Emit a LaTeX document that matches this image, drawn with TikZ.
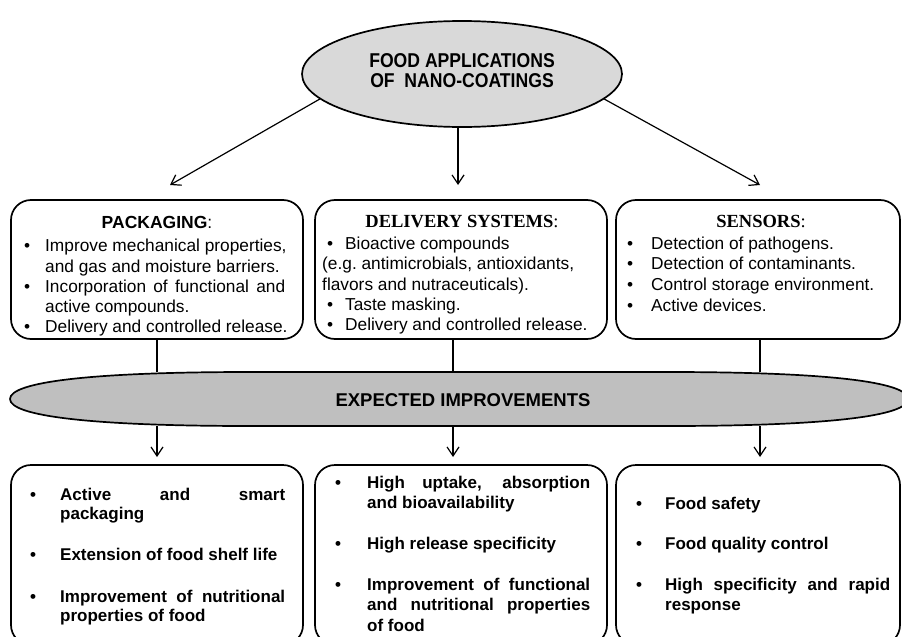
\documentclass[tikz,border=0pt]{standalone}
\usepackage{fontspec}
\setmainfont{Liberation Sans}
\newfontfamily\tnr{Liberation Serif}
\newfontfamily\narrowsans[FakeStretch=0.88]{Liberation Sans}
\usetikzlibrary{shapes.geometric,arrows.meta}
\definecolor{ellgray}{HTML}{D9D9D9}
\definecolor{bandgray}{HTML}{BFBFBF}
\tikzset{
  box/.style={draw, line width=1.7pt, rounded corners=20pt, inner sep=0pt},
  con/.style={line width=1.2pt},
  arr/.style={con, -{Straight Barb[length=9pt,width=12pt,line width=1.2pt]}},
  body/.style={anchor=base west, inner sep=0pt, font=\fontsize{17.3}{20}\selectfont},
  bodyb/.style={anchor=base west, inner sep=0pt, font=\fontsize{17}{20}\selectfont\bfseries},
  ttl/.style={anchor=base, inner sep=0pt},
}
\newcommand\bul[1]{\makebox[#1][l]{\textbullet}}
\begin{document}
\begin{tikzpicture}[x=1pt,y=-1pt]
\useasboundingbox (0,0) rectangle (902,637);
\clip (0,0) rectangle (902,637);
\fill[white] (0,0) rectangle (902,637);

% ---- top ellipse
\node[ellipse, draw, line width=1.7pt, fill=ellgray, minimum width=320pt, minimum height=106pt, inner sep=0pt] (top) at (462,74) {};
\node[ttl, font=\narrowsans\bfseries\fontsize{20}{20}\selectfont] (topa) at (462,67) {FOOD APPLICATIONS};
\node[ttl, font=\narrowsans\bfseries\fontsize{20}{20}\selectfont] (topb) at (462,87) {OF\ \ NANO-COATINGS};

% ---- arrow end points
\coordinate (a1) at (170,185);
\coordinate (a2) at (458,185);
\coordinate (a3) at (760,185);
\draw[arr] (top.190) -- (a1);
\draw[arr] (top.south -| a2) -- (a2);
\draw[arr] (top.350) -- (a3);

% ---- top boxes
\node[box, minimum width=292pt, minimum height=139pt] (b1) at (157,269.5) {};
\node[box, minimum width=292pt, minimum height=139pt] (b2) at (461,269.5) {};
\node[box, minimum width=284pt, minimum height=139pt] (b3) at (758,269.5) {};

% box 1 text
\node[ttl, font=\bfseries\fontsize{17.5}{20}\selectfont] (t1) at (157,228) {PACKAGING{\mdseries :}};
\node[body] (t1a) at (24,251) {\bul{21pt}Improve mechanical properties,};
\node[body] (t1b) at (45,272) {and gas and moisture barriers.};
\node[body] (t1c) at (24,292) {\bul{21pt}\makebox[240pt][s]{Incorporation of functional and}};
\node[body] (t1d) at (45,312) {active compounds.};
\node[body] (t1e) at (24,332) {\bul{21pt}Delivery and controlled release.};

% box 2 text
\node[ttl, font=\tnr\bfseries\fontsize{18.5}{20}\selectfont] (t2) at (462,227) {DELIVERY SYSTEMS{\mdseries :}};
\node[body] (t2a) at (327,249) {\bul{18pt}Bioactive compounds};
\node[body] (t2b) at (322,269) {(e.g.\ antimicrobials,\ antioxidants,};
\node[body] (t2c) at (322,290) {flavors and nutraceuticals).};
\node[body] (t2d) at (327,310) {\bul{18pt}Taste masking.};
\node[body] (t2e) at (327,330) {\bul{18pt}Delivery and controlled release.};

% box 3 text
\node[ttl, font=\tnr\bfseries\fontsize{18.5}{20}\selectfont] (t3) at (761,227) {SENSORS{\mdseries :}};
\node[body] (t3a) at (627,249) {\bul{24pt}Detection of pathogens.};
\node[body] (t3b) at (627,269) {\bul{24pt}Detection of contaminants.};
\node[body] (t3c) at (627,290) {\bul{24pt}Control storage environment.};
\node[body] (t3d) at (627,311) {\bul{24pt}Active devices.};

% ---- connectors to band
\coordinate (u1) at (157,372);
\coordinate (u2) at (453,372);
\coordinate (u3) at (760,372);
\draw[con] (b1.south -| u1) -- (u1);
\draw[con] (b2.south -| u2) -- (u2);
\draw[con] (b3.south -| u3) -- (u3);

% ---- band
\draw[line width=1.7pt, fill=bandgray]
  (10,399) .. controls (10,382) and (90,372) .. (250,372)
  -- (668,372) .. controls (828,372) and (908,382) .. (908,399)
  .. controls (908,416) and (828,426) .. (668,426)
  -- (250,426) .. controls (90,426) and (10,416) .. (10,399) -- cycle;
\node[ttl, font=\bfseries\fontsize{18.5}{20}\selectfont] (band) at (463,406) {EXPECTED IMPROVEMENTS};

% ---- arrows down
\coordinate (d1) at (157,426);
\coordinate (d2) at (453,426);
\coordinate (d3) at (760,426);
\coordinate (e1) at (157,457);
\coordinate (e2) at (453,457);
\coordinate (e3) at (760,457);
\draw[arr] (d1) -- (e1);
\draw[arr] (d2) -- (e2);
\draw[arr] (d3) -- (e3);

% ---- bottom boxes
\node[box, minimum width=292pt, minimum height=180pt] (c1) at (157,555) {};
\node[box, minimum width=292pt, minimum height=180pt] (c2) at (461,555) {};
\node[box, minimum width=284pt, minimum height=180pt] (c3) at (758,555) {};

\node[bodyb] (s1a) at (30,500) {\bul{30pt}\makebox[225pt][s]{Active and smart}};
\node[bodyb] (s1b) at (60,519) {packaging};
\node[bodyb] (s1c) at (30,560) {\bul{30pt}Extension of food shelf life};
\node[bodyb] (s1d) at (30,602) {\bul{30pt}\makebox[225pt][s]{Improvement of nutritional}};
\node[bodyb] (s1e) at (60,621) {properties of food};

\node[bodyb] (s2a) at (335,488) {\bul{32pt}\makebox[223pt][s]{High uptake, absorption}};
\node[bodyb] (s2b) at (367,508) {and bioavailability};
\node[bodyb] (s2c) at (335,549) {\bul{32pt}High release specificity};
\node[bodyb] (s2d) at (335,590) {\bul{32pt}\makebox[223pt][s]{Improvement of functional}};
\node[bodyb] (s2e) at (367,610) {\makebox[223pt][s]{and nutritional properties}};
\node[bodyb] (s2f) at (367,631) {of food};

\node[bodyb] (s3a) at (636,509) {\bul{29pt}Food safety};
\node[bodyb] (s3b) at (636,549) {\bul{29pt}Food quality control};
\node[bodyb] (s3c) at (636,590) {\bul{29pt}\makebox[225pt][s]{High specificity and rapid}};
\node[bodyb] (s3d) at (665,610) {response};
\end{tikzpicture}
\end{document}
